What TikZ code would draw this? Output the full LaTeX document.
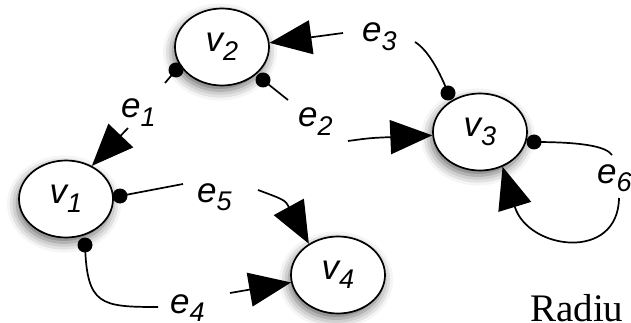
\documentclass[tikz,border=0pt]{standalone}
\usepackage{fontspec}
\setmainfont{Liberation Serif}
\setsansfont{Liberation Sans}
\usetikzlibrary{arrows.meta,shapes.geometric,shadows.blur}
\newcommand{\subdig}[1]{\raisebox{-8.5pt}{\fontsize{27}{27}\selectfont #1}}
\begin{document}
\begin{tikzpicture}[x=1pt,y=-1pt,
  vertex/.style={ellipse, draw, line width=1.7pt, fill=white, minimum width=94pt, minimum height=77pt, inner sep=0pt,
    font=\sffamily\itshape\fontsize{35}{35}\selectfont,
    blur shadow={shadow xshift=-2pt, shadow yshift=-5pt, shadow blur radius=10pt, shadow opacity=60}},
  lbl/.style={anchor=base west, inner sep=0pt, font=\sffamily\itshape\fontsize{35}{35}\selectfont},
  edge/.style={line width=1.7pt},
  arr/.style={line width=1.7pt, -{Triangle[length=42pt,width=34pt]}},
  dot/.style={circle, fill=black, inner sep=0pt, minimum size=15pt}
]
\useasboundingbox (0,0) rectangle (631,323);
\node[vertex] (v1) at (66,199) {v\subdig{1}};
\node[vertex] (v2) at (222,47) {v\subdig{2}};
\node[vertex] (v3) at (480,132) {v\subdig{3}};
\node[vertex] (v4) at (338,275) {v\subdig{4}};

\node[lbl] (e1) at (121,118) {e\subdig{1}};
\node[lbl] (e2) at (298,127) {e\subdig{2}};
\node[lbl] (e3) at (362,42) {e\subdig{3}};
\node[lbl] (e4) at (170,313) {e\subdig{4}};
\node[lbl] (e5) at (197,202) {e\subdig{5}};
\node[lbl] (e6) at (597,183) {e\subdig{6}};

\node[dot] (d1) at (176,70) {};
\node[dot] (d2) at (263,80) {};
\node[dot] (d3) at (448,93) {};
\node[dot] (d4) at (85,245) {};
\node[dot] (d5) at (120,196) {};
\node[dot] (d6) at (534,142) {};

\coordinate (e1a) at (165,83);  \coordinate (e1b) at (128,128);
\coordinate (e2a) at (288,100); \coordinate (e2b) at (348,141);
\coordinate (e3a) at (415,42);  \coordinate (e3b) at (343,33);
\coordinate (e4a) at (158,307); \coordinate (e4b) at (230,293);
\coordinate (e5a) at (183,184); \coordinate (e5b) at (258,190);
\coordinate (e6a) at (612,155); \coordinate (e6b) at (619,198);

% e1
\draw[edge] (d1.center) -- (e1a);
\draw[arr] (e1b) -- (v1.52);
% e2
\draw[edge] (d2.center) -- (e2a);
\draw[arr] (e2b) .. controls (370,138) .. (v3.184);
% e3
\draw[edge] (d3.center) .. controls (440,72) and (428,50) .. (e3a);
\draw[arr] (e3b) -- (v2.5);
% e4
\draw[edge] (d4.center) .. controls (87,305) and (100,307) .. (e4a);
\draw[arr] (e4b) -- (v4.189);
% e5
\draw[edge] (d5.center) -- (e5a);
\draw[arr] (e5b) .. controls (285,200) .. (v4.133);
% e6
\draw[edge] (d6.center) .. controls (580,142) and (606,146) .. (e6a);
\draw[arr] (e6b) .. controls (618,262) and (528,250) .. (v3.303);

\node[anchor=base west, inner sep=0pt, font=\fontsize{39}{39}\selectfont] (rad) at (530,321) {Radiu};
\end{tikzpicture}
\end{document}
